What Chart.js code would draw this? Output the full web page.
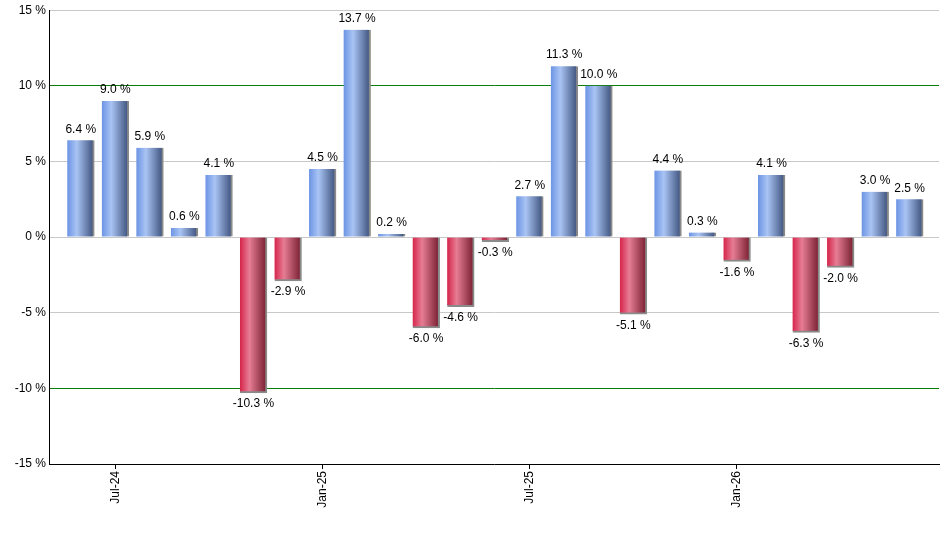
<!DOCTYPE html>
<html>
<head>
<meta charset="utf-8">
<script src="https://cdn.jsdelivr.net/npm/chart.js@4"></script>
<style>
  body { margin: 0; background: #fff; }
  #wrap { width: 940px; height: 550px; }
</style>
</head>
<body>
<div id="wrap"><canvas id="ret_chart"></canvas></div>
<script>
// monthly returns, Jun-24 .. Jun-26
const months = ['Jun-24','Jul-24','Aug-24','Sep-24','Oct-24','Nov-24','Dec-24',
                'Jan-25','Feb-25','Mar-25','Apr-25','May-25','Jun-25',
                'Jul-25','Aug-25','Sep-25','Oct-25','Nov-25','Dec-25',
                'Jan-26','Feb-26','Mar-26','Apr-26','May-26','Jun-26'];
const returns = [6.4, 9.0, 5.9, 0.6, 4.1, -10.3, -2.9, 4.5, 13.7, 0.2, -6.0, -4.6, -0.3,
                 2.7, 11.3, 10.0, -5.1, 4.4, 0.3, -1.6, 4.1, -6.3, -2.0, 3.0, 2.5];
const tickMonths = ['Jul-24', 'Jan-25', 'Jul-25', 'Jan-26'];
const yTicks = [-15, -10, -5, 0, 5, 10, 15];

const BAR_W = 27;

function barFill(c) {
    const chart = c.chart;
    const v = returns[c.dataIndex];
    if (!chart.chartArea || !chart.scales.x) return v >= 0 ? '#7fa2e8' : '#d8405c';
    const cx = chart.scales.x.getPixelForValue(c.dataIndex);
    const g = chart.ctx.createLinearGradient(cx - BAR_W / 2, 0, cx + BAR_W / 2, 0);
    if (v >= 0) {
        g.addColorStop(0, '#6c94e4');
        g.addColorStop(0.35, '#a9c4f4');
        g.addColorStop(1, '#3a4e78');
    } else {
        g.addColorStop(0, '#d6244a');
        g.addColorStop(0.35, '#e67d94');
        g.addColorStop(1, '#731b2c');
    }
    return g;
}

const valueLabels = {
    id: 'valueLabels',
    afterDatasetsDraw(chart) {
        const ctx = chart.ctx;
        const meta = chart.getDatasetMeta(0);
        ctx.save();
        ctx.font = '12px "Liberation Sans", Arial, sans-serif';
        ctx.fillStyle = '#000';
        ctx.textAlign = 'center';
        meta.data.forEach(function (bar, i) {
            const v = returns[i];
            const txt = v.toFixed(1) + ' %';
            if (v >= 0) {
                ctx.textBaseline = 'bottom';
                ctx.fillText(txt, bar.x, bar.y - 5);
            } else {
                ctx.textBaseline = 'top';
                ctx.fillText(txt, bar.x, bar.y + 5);
            }
        });
        ctx.restore();
    }
};

const ctxr = document.getElementById('ret_chart').getContext('2d');
const chartr = new Chart(ctxr, {
    type: 'bar',
    data: {
        datasets: [{
            label: 'Return',
            data: returns.map((v, i) => ({ x: i, y: v })),
            backgroundColor: barFill,
            borderColor: '#8a8a8a',
            borderWidth: c => returns[c.dataIndex] >= 0
                ? { top: 0, left: 0, right: 2, bottom: 0 }
                : { top: 0, left: 0, right: 2, bottom: 2 },
            borderSkipped: false,
            barThickness: BAR_W
        }]
    },
    options: {
        responsive: true,
        maintainAspectRatio: false,
        animation: false,
        layout: { padding: { top: 9, right: 1, left: 0, bottom: 0 } },
        plugins: {
            legend: { display: false },
            tooltip: { enabled: false }
        },
        scales: {
            x: {
                type: 'linear',
                min: -0.92,
                max: 24.85,
                offset: false,
                afterBuildTicks: s => {
                    s.ticks = tickMonths.map(m => ({ value: months.indexOf(m) }));
                },
                afterFit: s => { s.height = 86; },
                ticks: {
                    autoSkip: false,
                    minRotation: 90,
                    maxRotation: 90,
                    padding: 2,
                    color: '#000',
                    font: { family: '"Liberation Sans", Arial, sans-serif', size: 12 },
                    callback: v => months[v]
                },
                grid: {
                    offset: false,
                    drawOnChartArea: false,
                    drawTicks: true,
                    tickLength: 5,
                    color: '#000'
                },
                border: { display: true, color: '#000', width: 1 }
            },
            y: {
                min: -15,
                max: 15,
                afterBuildTicks: s => {
                    s.ticks = yTicks.map(v => ({ value: v }));
                },
                afterFit: s => { s.width = 49; },
                ticks: {
                    padding: 3,
                    color: '#000',
                    font: { family: '"Liberation Sans", Arial, sans-serif', size: 12 },
                    callback: v => v + ' %'
                },
                grid: {
                    drawTicks: false,
                    color: c => Math.abs(c.tick.value) === 10 ? '#0a7d0a' : '#c8c8c8',
                    lineWidth: 1
                },
                border: { display: true, color: '#000', width: 1 }
            }
        }
    },
    plugins: [valueLabels]
});
</script>
</body>
</html>
